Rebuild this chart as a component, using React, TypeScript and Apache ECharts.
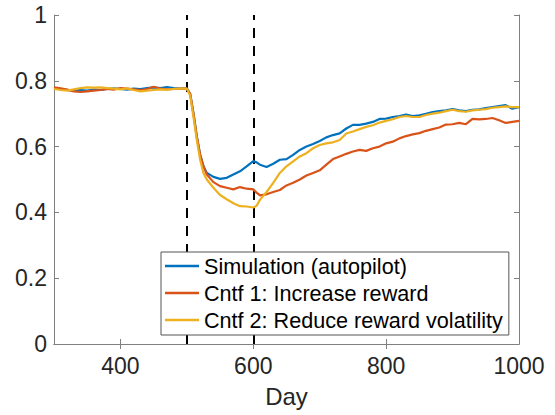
import React, { useEffect, useRef } from "react";
import * as echarts from "echarts";

const days = [300,310,320,330,340,350,360,370,380,390,400,410,420,430,440,450,460,470,480,490,500,
  505,510,515,520,525,530,
  540,550,560,570,580,590,600,
  605,610,
  620,630,640,650,660,670,680,690,700,710,720,730,740,750,760,770,780,790,800,810,820,830,840,850,860,870,880,890,900,910,920,930,940,950,960,970,980,990,1000];

const autopilot = [0.778,0.775,0.772,0.770,0.772,0.770,0.773,0.772,0.775,0.777,0.775,0.773,0.776,0.775,0.778,0.780,0.778,0.781,0.778,0.776,0.777,
  0.76,0.70,0.63,0.575,0.54,0.52,
  0.508,0.502,0.505,0.515,0.525,0.54,0.556,
  0.552,0.545,
  0.538,0.548,0.56,0.562,0.575,0.59,0.60,0.608,0.617,0.628,
  0.635,0.64,0.655,0.666,0.666,0.67,0.675,0.684,0.685,0.69,
  0.693,0.697,0.693,0.695,0.70,0.705,0.708,0.71,0.714,0.71,
  0.708,0.712,0.713,0.717,0.72,0.723,0.726,0.715,0.72];

const increaseReward = [0.780,0.777,0.773,0.768,0.766,0.768,0.770,0.772,0.775,0.773,0.778,0.776,0.774,0.772,0.775,0.782,0.776,0.774,0.775,0.776,0.776,
  0.76,0.70,0.63,0.575,0.54,0.515,
  0.492,0.48,0.475,0.47,0.477,0.472,0.47,
  0.46,0.452,
  0.455,0.462,0.468,0.482,0.49,0.50,0.512,0.52,0.528,0.545,
  0.562,0.57,0.578,0.585,0.59,0.587,0.595,0.60,0.61,0.615,
  0.625,0.632,0.637,0.641,0.648,0.653,0.658,0.667,0.668,0.672,
  0.668,0.684,0.683,0.684,0.687,0.68,0.672,0.675,0.678];

const reduceVolatility = [0.775,0.772,0.770,0.774,0.778,0.780,0.779,0.780,0.778,0.776,0.774,0.777,0.772,0.768,0.770,0.772,0.774,0.773,0.775,0.776,0.776,
  0.755,0.69,0.62,0.56,0.52,0.50,
  0.475,0.453,0.44,0.428,0.419,0.418,0.415,
  0.42,0.438,
  0.462,0.49,0.52,0.54,0.555,0.57,0.58,0.595,0.605,0.61,
  0.613,0.62,0.64,0.646,0.653,0.66,0.665,0.673,0.678,0.683,
  0.69,0.693,0.69,0.69,0.696,0.70,0.703,0.708,0.712,0.708,
  0.706,0.71,0.712,0.714,0.718,0.72,0.722,0.72,0.72];

const seriesNames = [
  "Simulation (autopilot)",
  "Cntf 1: Increase reward",
  "Cntf 2: Reduce reward volatility",
];
const seriesColors = ["#0072BD", "#D95319", "#EDB120"];
const eventDays = [500, 600];
const xTickValues = [400, 600, 800, 1000];
const xTopTicks = [400, 600, 800];

const FONT = "'Liberation Sans', Arial, Helvetica, sans-serif";
const TEXT = "#262626";
const AXIS = "#808080";

export default function App() {
  const ref = useRef<HTMLDivElement>(null);
  useEffect(() => {
    if (!ref.current) return;
    const chart = echarts.init(ref.current, undefined, { renderer: "svg" });
    const allSeries = [autopilot, increaseReward, reduceVolatility];
    const tickCommon = { show: true, inside: true, length: 5, lineStyle: { color: AXIS, width: 1 } };
    chart.setOption({
      animation: false,
      textStyle: { fontFamily: FONT, color: TEXT },
      grid: { left: 54, right: 36, top: 15, bottom: 71, containLabel: false },
      xAxis: [
        {
          type: "value",
          min: 300,
          max: 1000,
          name: "Day",
          nameLocation: "middle",
          nameGap: 40,
          nameTextStyle: { fontSize: 24, color: TEXT, fontFamily: FONT },
          axisLine: { show: true, lineStyle: { color: AXIS, width: 1 } },
          axisTick: { ...tickCommon, customValues: xTickValues },
          axisLabel: {
            customValues: xTickValues,
            fontSize: 23,
            color: TEXT,
            margin: 10,
            fontFamily: FONT,
            formatter: (v: number) => String(v),
          },
          splitLine: { show: false },
        },
        {
          type: "value",
          position: "top",
          min: 300,
          max: 1000,
          axisLine: { show: true, lineStyle: { color: AXIS, width: 1 } },
          axisTick: { ...tickCommon, customValues: xTopTicks },
          axisLabel: { show: false },
          splitLine: { show: false },
        },
      ],
      yAxis: [
        {
          type: "value",
          min: 0,
          max: 1,
          interval: 0.2,
          axisLine: { show: true, lineStyle: { color: AXIS, width: 1 } },
          axisTick: tickCommon,
          axisLabel: { fontSize: 23, color: TEXT, margin: 7, fontFamily: FONT },
          splitLine: { show: false },
        },
        {
          type: "value",
          position: "right",
          min: 0,
          max: 1,
          interval: 0.2,
          axisLine: { show: true, lineStyle: { color: AXIS, width: 1 } },
          axisTick: tickCommon,
          axisLabel: { show: false },
          splitLine: { show: false },
        },
      ],
      legend: {
        data: seriesNames,
        orient: "vertical",
        left: 161,
        top: 252,
        z: 100,
        padding: [3, 6, 4, 4],
        itemGap: 5,
        itemWidth: 34,
        itemHeight: 2.5,
        icon: "rect",
        backgroundColor: "#ffffff",
        borderColor: "#555555",
        borderWidth: 1,
        borderRadius: 0,
        textStyle: { fontSize: 21.6, lineHeight: 21.5, color: "#000", fontFamily: FONT },
      },
      series: [
        {
          type: "line",
          name: "events",
          data: [],
          z: 1,
          silent: true,
          markLine: {
            silent: true,
            z: 1,
            symbol: ["none", "none"],
            label: { show: false },
            emphasis: { disabled: true },
            lineStyle: { color: "#000", width: 2, type: [10, 8] },
            data: eventDays.map((d) => ({ xAxis: d })),
          },
        },
        ...seriesNames.map((name, i) => ({
          type: "line",
          name,
          z: 2,
          data: days.map((d, j) => [d, allSeries[i][j]]),
          showSymbol: false,
          symbol: "none",
          smooth: false,
          color: seriesColors[i],
          lineStyle: { color: seriesColors[i], width: 2.2 },
        })),
      ],
    });
    return () => chart.dispose();
  }, []);
  return (
    <div
      ref={ref}
      style={{ position: "fixed", left: 0, top: 0, width: 555, height: 415, background: "#fff" }}
    />
  );
}
